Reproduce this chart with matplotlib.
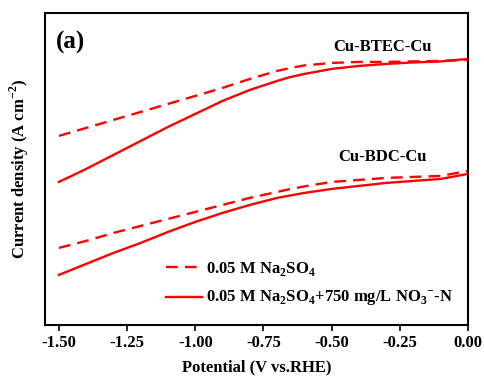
import matplotlib.pyplot as plt

plt.rcParams['font.family'] = ['Liberation Serif', 'DejaVu Serif']
plt.rcParams['font.weight'] = 'bold'
plt.rcParams['mathtext.fontset'] = 'custom'
plt.rcParams['mathtext.rm'] = 'Liberation Serif:bold'
plt.rcParams['mathtext.bf'] = 'Liberation Serif:bold'

potential = [-1.5, -1.4, -1.3, -1.2, -1.1, -1.0, -0.9, -0.8, -0.7, -0.65, -0.6, -0.5, -0.4, -0.3, -0.2, -0.1, 0.0]
# arbitrary units (no y ticks in the original)
btec_blank = [19.3, 20.1, 20.9, 21.7, 22.5, 23.3, 24.1, 25.0, 25.8, 26.1, 26.35, 26.6, 26.7, 26.7, 26.75, 26.8, 26.9]
btec_nitrate = [14.7, 16.0, 17.4, 18.8, 20.2, 21.5, 22.8, 23.9, 24.8, 25.2, 25.5, 26.0, 26.3, 26.5, 26.65, 26.75, 27.0]
bdc_blank = [8.1, 8.8, 9.6, 10.3, 11.0, 11.7, 12.4, 13.1, 13.7, 14.0, 14.25, 14.7, 14.9, 15.1, 15.2, 15.3, 15.8]
bdc_nitrate = [5.4, 6.5, 7.6, 8.6, 9.7, 10.7, 11.6, 12.4, 13.1, 13.35, 13.6, 14.0, 14.3, 14.6, 14.8, 15.0, 15.5]

fig, ax = plt.subplots(figsize=(4.84, 3.80), dpi=100)
fig.subplots_adjust(left=0.093, right=0.967, top=0.966, bottom=0.145)

dash = (0, (5, 3))
ax.plot(potential, btec_blank, color='red', lw=1.7, linestyle=dash, label='0.05 M Na$_2$SO$_4$')
ax.plot(potential, btec_nitrate, color='red', lw=1.7, label='0.05 M Na$_2$SO$_4$+750 mg/L NO$_3$$^{-}$-N')
ax.plot(potential, bdc_blank, color='red', lw=1.7, linestyle=dash)
ax.plot(potential, bdc_nitrate, color='red', lw=1.7)

ax.set_xlim(-1.551, 0.0)
ax.set_ylim(0.4, 31.6)
ax.set_xticks([-1.5, -1.25, -1.0, -0.75, -0.5, -0.25, 0.0])
ax.set_xticklabels(['-1.50', '-1.25', '-1.00', '-0.75', '-0.50', '-0.25', '0.00'])
ax.set_yticks([])
ax.tick_params(axis='x', direction='out', length=4, width=1.2, labelsize=12, pad=3)
for s in ax.spines.values():
    s.set_linewidth(1.5)

ax.set_xlabel('Potential (V vs.RHE)', fontsize=12, fontweight='bold', labelpad=6)
ax.set_ylabel('Current density (A cm$^{-2}$)', fontsize=12, fontweight='bold', labelpad=10)

ax.text(0.025, 0.905, '(a)', transform=ax.transAxes, fontsize=18, fontweight='bold', va='center')
ax.text(-0.312, 28.2, 'Cu-BTEC-Cu', fontsize=12, fontweight='bold', ha='center', va='center')
ax.text(-0.312, 17.2, 'Cu-BDC-Cu', fontsize=12, fontweight='bold', ha='center', va='center')

ax.legend(loc='lower left', bbox_to_anchor=(0.25, 0.005), frameon=False, fontsize=12,
          handlelength=2.2, handletextpad=0.2, labelspacing=0.65)

fig.savefig('out.png', dpi=100)
